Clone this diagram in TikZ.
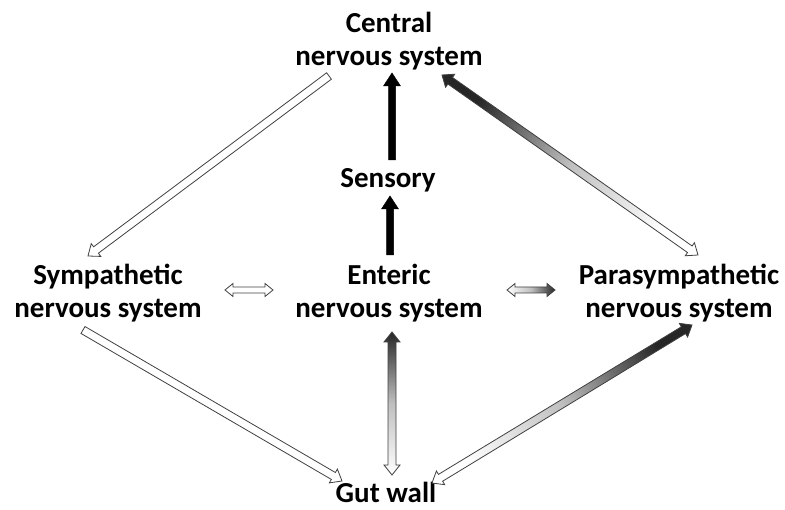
\documentclass[tikz,border=0pt]{standalone}
\usepackage{fontspec}
\setmainfont{Carlito}
\usetikzlibrary{calc}
\tikzset{
  lbl/.style={font=\bfseries\fontsize{29}{33}\selectfont, align=center, inner sep=0pt},
  whitearr/.style={draw=black!75, line width=0.8pt, fill=white, line join=miter},
  blackarr/.style={draw=black, line width=0.5pt, fill=black},
  gradarr/.style={draw=black!75, line width=0.8pt, line join=miter}
}
% single block arrow: #1 style, #2 tail, #3 tip, #4 half shaft, #5 half head, #6 head length
\newcommand\sblockarrow[6]{%
  \path[#1] ($(#2)!#4!90:(#3)$) -- ($(#3)!#6!(#2)!#4!90:(#3)$) -- ($(#3)!#6!(#2)!#5!90:(#3)$)
    -- (#3) -- ($(#3)!#6!(#2)!#5!-90:(#3)$) -- ($(#3)!#6!(#2)!#4!-90:(#3)$)
    -- ($(#2)!#4!-90:(#3)$) -- cycle;}
% double block arrow
\newcommand\dblockarrow[6]{%
  \path[#1] (#2) -- ($(#2)!#6!(#3)!#5!90:(#3)$) -- ($(#2)!#6!(#3)!#4!90:(#3)$)
    -- ($(#3)!#6!(#2)!#4!90:(#3)$) -- ($(#3)!#6!(#2)!#5!90:(#3)$)
    -- (#3) -- ($(#3)!#6!(#2)!#5!-90:(#3)$) -- ($(#3)!#6!(#2)!#4!-90:(#3)$)
    -- ($(#2)!#6!(#3)!#4!-90:(#3)$) -- ($(#2)!#6!(#3)!#5!-90:(#3)$) -- cycle;}
\begin{document}
\begin{tikzpicture}[x=1pt,y=-1pt]
\useasboundingbox (0,0) rectangle (785,510);
\node[lbl] (cns) at (389,41) {Central\\nervous system};
\node[lbl] (sens) at (388,180) {Sensory};
\node[lbl] (symp) at (108,293) {Sympathetic\\nervous system};
\node[lbl] (ent) at (389,293) {Enteric\\nervous system};
\node[lbl] (para) at (679,293) {Parasympathetic\\nervous system};
\node[lbl] (gut) at (386,492) {Gut wall};

\coordinate (cs1) at (329,76);  \coordinate (cs2) at (88,256);
\coordinate (sc1) at (392,160); \coordinate (sc2) at (392,73);
\coordinate (es1) at (390,255); \coordinate (es2) at (390,196);
\coordinate (cp1) at (442,75);  \coordinate (cp2) at (698,255);
\coordinate (se1) at (225,290); \coordinate (se2) at (273,290);
\coordinate (ep1) at (507,290); \coordinate (ep2) at (555,290);
\coordinate (sg1) at (83,330);  \coordinate (sg2) at (342,481);
\coordinate (eg1) at (392,332); \coordinate (eg2) at (392,475);
\coordinate (gp1) at (432,483); \coordinate (gp2) at (692,325);

\sblockarrow{whitearr}{cs1}{cs2}{4pt}{8pt}{10pt}
\sblockarrow{blackarr}{sc1}{sc2}{3.5pt}{8.5pt}{13pt}
\sblockarrow{blackarr}{es1}{es2}{3.5pt}{8.5pt}{13pt}
\dblockarrow{gradarr, top color=black!85, bottom color=white, middle color=black!25, shading angle=54.9}{cp1}{cp2}{4pt}{8pt}{10pt}
\dblockarrow{whitearr}{se1}{se2}{3pt}{6.5pt}{8pt}
\dblockarrow{gradarr, left color=white, right color=black!85, middle color=black!25}{ep1}{ep2}{3pt}{6.5pt}{8pt}
\sblockarrow{whitearr}{sg1}{sg2}{4pt}{8pt}{10pt}
\dblockarrow{gradarr, top color=black!85, bottom color=white, middle color=black!25}{eg1}{eg2}{4pt}{8pt}{10pt}
\dblockarrow{gradarr, top color=black!85, bottom color=white, middle color=black!25, shading angle=-58.7}{gp1}{gp2}{4pt}{8pt}{10pt}
\end{tikzpicture}
\end{document}
